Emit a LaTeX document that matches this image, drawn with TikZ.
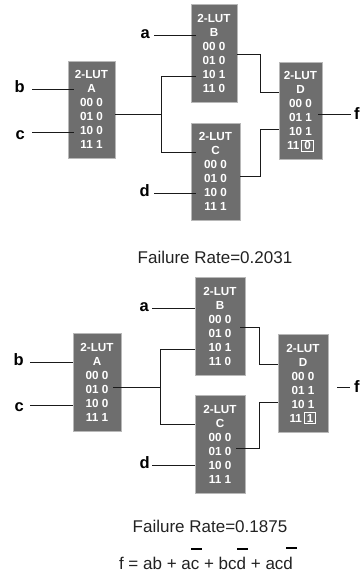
\documentclass[tikz,border=0pt]{standalone}
\usepackage{fontspec}
\setmainfont{Liberation Sans}
\newcommand{\boxeddigit}[1]{\smash{\setlength{\fboxsep}{0.8pt}\setlength{\fboxrule}{1pt}\fbox{\kern1.2pt #1\kern1.2pt}}}
\definecolor{lutgray}{HTML}{6E6E6E}
\definecolor{lutedge}{HTML}{B8B8B8}
\definecolor{wirecol}{HTML}{1A1A1A}
\definecolor{textcol}{HTML}{222222}
\tikzset{
  lut/.style={fill=lutgray,draw=lutedge,line width=0.5pt,inner sep=0pt,align=center,text=white,
    font=\fontsize{11.7}{14}\selectfont\bfseries},
  sig/.style={font=\fontsize{16.5}{18}\selectfont\bfseries,inner ysep=0pt,text=black},
  wire/.style={draw=wirecol,line width=0.9pt},
  rate/.style={font=\fontsize{17}{20}\selectfont,inner sep=0pt,anchor=base,text=textcol},
  obar/.style={draw=black,line width=2pt}
}
\begin{document}
\begin{tikzpicture}[x=1pt,y=-1pt]
\useasboundingbox (0,0) rectangle (360,573);
\fill[white] (0,0) rectangle (360,573);
% ---------- upper circuit
\node[lut,minimum width=47pt,minimum height=97pt] (A1) at (91.5,109.5) {2-LUT\\A\\00 0\\01 0\\10 0\\11 1};
\node[lut,minimum width=46pt,minimum height=98pt] (B1) at (214,53) {2-LUT\\B\\00 0\\01 0\\10 1\\11 0};
\node[lut,minimum width=49pt,minimum height=97pt] (C1) at (215.5,171.5) {2-LUT\\C\\00 0\\01 0\\10 0\\11 1};
\node[lut,minimum width=43pt,minimum height=97pt] (D1) at (300.5,110.5) {2-LUT\\D\\00 0\\01 1\\10 1\\11\,\boxeddigit{0}};
\node[sig,anchor=east,inner xsep=4pt] (a1) at (154,34) {a};
\node[sig,anchor=east,inner xsep=7pt] (b1) at (32,87) {b};
\node[sig,anchor=east,inner xsep=7pt] (c1) at (32,135) {c};
\node[sig,anchor=east,inner xsep=4pt] (d1) at (154,191) {d};
\node[sig,anchor=west,inner xsep=3pt] (f1) at (351,114) {f};
\node[rate] (r1) at (215,263) {Failure Rate=0.2031};
\coordinate (a1p) at (196,35);
\coordinate (b1p) at (74,89.5);
\coordinate (c1p) at (74,132);
\coordinate (d1p) at (196,193);
\coordinate (j1) at (161,114);
\coordinate (B1q) at (196,76);
\coordinate (C1q) at (196,152);
\coordinate (B1o) at (260,54);
\coordinate (C1o) at (260,176);
\coordinate (D1u) at (260,92);
\coordinate (D1l) at (260,129);
\coordinate (D1o) at (318,114.5);
\draw[wire] (a1.east |- a1p) -- (a1p);
\draw[wire] (b1.east |- b1p) -- (b1p);
\draw[wire] (c1.east |- c1p) -- (c1p);
\draw[wire] (d1.east |- d1p) -- (d1p);
\draw[wire] (A1.east |- j1) -- (j1);
\draw[wire] (B1q) -- (j1 |- B1q) -- (j1 |- C1q) -- (C1q);
\draw[wire] (B1.east |- B1o) -- (B1o) -- (D1u) -- (D1.west |- D1u);
\draw[wire] (C1.east |- C1o) -- (C1o) -- (D1l) -- (D1.west |- D1l);
\draw[wire] (D1o) -- (f1.west |- D1o);
% ---------- lower circuit
\node[lut,minimum width=48pt,minimum height=98pt] (A2) at (97,382) {2-LUT\\A\\00 0\\01 0\\10 0\\11 1};
\node[lut,minimum width=50pt,minimum height=98pt] (B2) at (220,326) {2-LUT\\B\\00 0\\01 0\\10 1\\11 0};
\node[lut,minimum width=50pt,minimum height=98pt] (C2) at (220,444) {2-LUT\\C\\00 0\\01 0\\10 0\\11 1};
\node[lut,minimum width=50pt,minimum height=98pt] (D2) at (303,383) {2-LUT\\D\\00 0\\01 1\\10 1\\11\,\boxeddigit{1}};
\node[sig,anchor=east,inner xsep=3pt] (a2) at (152,307) {a};
\node[sig,anchor=east,inner xsep=6pt] (b2) at (30,360) {b};
\node[sig,anchor=east,inner xsep=6pt] (c2) at (30,407) {c};
\node[sig,anchor=east,inner xsep=2pt] (d2) at (152,463) {d};
\node[sig,anchor=west,inner xsep=4pt] (f2) at (350,387) {f};
\node[rate] (r2) at (210,532) {Failure Rate=0.1875};
\node[rate] (fx) at (206,569) {f = ab + ac + bcd + acd};
\coordinate (a2p) at (195,308);
\coordinate (b2p) at (73,362);
\coordinate (c2p) at (73,405);
\coordinate (d2p) at (195,465);
\coordinate (j2) at (160,387);
\coordinate (A2o) at (113,387);
\coordinate (B2q) at (195,349);
\coordinate (C2q) at (195,424);
\coordinate (B2o) at (240,327);
\coordinate (B2k) at (259,327);
\coordinate (C2o) at (236,448);
\coordinate (C2k) at (259,448);
\coordinate (D2u) at (259,364);
\coordinate (D2l) at (259,402);
\coordinate (D2o) at (337,387);
\draw[wire] (a2.east |- a2p) -- (a2p);
\draw[wire] (b2.east |- b2p) -- (b2p);
\draw[wire] (c2.east |- c2p) -- (c2p);
\draw[wire] (d2.east |- d2p) -- (d2p);
\draw[wire] (A2o) -- (j2);
\draw[wire] (B2q) -- (j2 |- B2q) -- (j2 |- C2q) -- (C2q);
\draw[wire] (B2o) -- (B2k) -- (D2u) -- (D2.west |- D2u);
\draw[wire] (C2o) -- (C2k) -- (D2l) -- (D2.west |- D2l);
\draw[wire] (D2o) -- (f2.west |- D2o);
% overbars of the formula
\draw[obar] (191,548.5) -- (202,548.5);
\draw[obar] (237,548.5) -- (248,548.5);
\draw[obar] (286,548) -- (297,548);
\end{tikzpicture}
\end{document}
